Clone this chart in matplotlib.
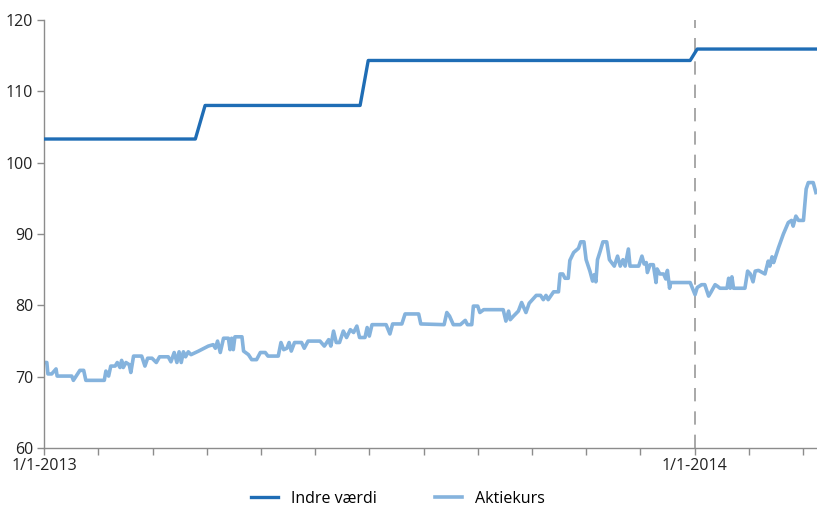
import matplotlib
matplotlib.use("Agg")
import matplotlib.pyplot as plt

# Akse i måneder fra 1/1-2013 (0) til starten af marts 2014
MONTHS_END = 14.26
TICK_MONTHS = list(range(0, 15))
TICK_LABELS = {0: "1/1-2013", 12: "1/1-2014"}

# Indre værdi (trinvis)
indre_x = [0.0, 2.79, 2.97, 5.83, 5.98, 11.92, 12.05, 14.26]
indre_y = [103.3, 103.3, 108.0, 108.0, 114.3, 114.3, 115.9, 115.9]

# Aktiekurs
kurs_x = [
    0.00, 0.05, 0.07, 0.14, 0.22, 0.24, 0.51, 0.54, 0.66, 0.73, 0.77, 1.11,
    1.14, 1.19, 1.23, 1.31, 1.35, 1.40, 1.43, 1.46, 1.51, 1.57, 1.60, 1.65,
    1.80, 1.86, 1.91, 1.99, 2.07, 2.13, 2.29, 2.34, 2.40, 2.45, 2.49, 2.53,
    2.57, 2.61, 2.66, 2.71, 2.85, 3.03, 3.12, 3.16, 3.20, 3.25, 3.31, 3.40,
    3.43, 3.46, 3.49, 3.52, 3.65, 3.68, 3.77, 3.83, 3.92, 3.99, 4.08, 4.13,
    4.32, 4.37, 4.42, 4.48, 4.52, 4.56, 4.62, 4.75, 4.80, 4.87, 5.09, 5.17,
    5.25, 5.29, 5.34, 5.39, 5.45, 5.52, 5.58, 5.65, 5.71, 5.77, 5.82, 5.92,
    5.96, 6.00, 6.05, 6.31, 6.38, 6.43, 6.60, 6.66, 6.91, 6.95, 7.38, 7.43,
    7.48, 7.55, 7.68, 7.77, 7.81, 7.89, 7.92, 8.00, 8.04, 8.11, 8.47, 8.52,
    8.57, 8.60, 8.66, 8.75, 8.81, 8.89, 8.95, 9.08, 9.16, 9.21, 9.26, 9.30,
    9.40, 9.49, 9.52, 9.57, 9.61, 9.67, 9.70, 9.77, 9.86, 9.90, 9.96, 10.00,
    10.07, 10.12, 10.15, 10.18, 10.21, 10.26, 10.31, 10.38, 10.43, 10.52, 10.58, 10.63,
    10.68, 10.72, 10.78, 10.81, 10.97, 11.03, 11.07, 11.11, 11.13, 11.18, 11.24, 11.29,
    11.31, 11.36, 11.43, 11.47, 11.50, 11.54, 11.56, 11.92, 12.01, 12.05, 12.13, 12.19,
    12.26, 12.30, 12.38, 12.42, 12.47, 12.60, 12.63, 12.66, 12.69, 12.72, 12.93, 12.98,
    13.03, 13.08, 13.12, 13.18, 13.30, 13.36, 13.39, 13.43, 13.46, 13.55, 13.64, 13.73,
    13.79, 13.82, 13.87, 13.92, 14.01, 14.06, 14.10, 14.19, 14.24,
]
kurs_y = [
    72.0, 72.0, 70.4, 70.4, 71.1, 70.1, 70.1, 69.5, 70.9, 70.9, 69.5, 69.5,
    70.8, 70.1, 71.5, 71.5, 72.0, 71.3, 72.3, 71.3, 72.0, 71.7, 70.6, 72.9,
    72.9, 71.5, 72.6, 72.6, 72.0, 72.8, 72.8, 72.1, 73.4, 72.0, 73.5, 72.0,
    73.5, 72.8, 73.5, 73.1, 73.6, 74.3, 74.5, 74.0, 75.0, 73.4, 75.4, 75.4,
    73.8, 75.4, 73.8, 75.6, 75.6, 73.6, 73.1, 72.4, 72.4, 73.4, 73.4, 72.9,
    72.9, 74.8, 73.8, 74.0, 74.8, 73.6, 74.8, 74.8, 74.0, 75.0, 75.0, 74.3,
    75.2, 74.3, 76.4, 74.8, 74.8, 76.4, 75.5, 76.6, 76.2, 77.1, 75.5, 75.5,
    76.9, 75.7, 77.3, 77.3, 76.0, 77.4, 77.4, 78.8, 78.8, 77.4, 77.3, 79.0,
    78.5, 77.3, 77.3, 77.9, 77.3, 77.3, 79.9, 79.9, 79.0, 79.4, 79.4, 77.8,
    79.2, 78.0, 78.5, 79.2, 80.4, 79.0, 80.3, 81.4, 81.4, 80.8, 81.4, 80.8,
    81.9, 81.9, 84.4, 84.4, 83.8, 83.8, 86.3, 87.4, 88.0, 88.9, 88.9, 86.4,
    84.8, 83.4, 84.3, 83.3, 86.4, 87.6, 88.9, 88.9, 86.4, 85.5, 86.9, 85.5,
    86.4, 85.5, 87.9, 85.5, 85.5, 86.9, 85.8, 86.0, 84.6, 85.7, 85.7, 83.2,
    85.1, 84.4, 84.4, 83.7, 84.9, 82.4, 83.2, 83.2, 81.5, 82.5, 82.9, 82.9,
    81.3, 81.8, 82.9, 82.7, 82.4, 82.4, 83.8, 82.4, 84.0, 82.4, 82.4, 84.8,
    84.4, 83.3, 84.8, 84.9, 84.4, 86.2, 85.5, 86.8, 86.0, 88.1, 90.0, 91.6,
    91.9, 91.1, 92.5, 91.9, 91.9, 96.3, 97.2, 97.2, 95.8,
]

plt.rcParams["font.family"] = ["Open Sans", "DejaVu Sans"]

fig = plt.figure(figsize=(8.17, 5.07), dpi=100)
ax = fig.add_axes([0.054, 0.116, 0.946, 0.845])

ax.axvline(12, color="#9a9a9a", lw=1.2, ls=(0, (8, 6)), zorder=1)
ax.plot(indre_x, indre_y, color="#1f6db5", lw=2.4, label="Indre værdi",
        solid_joinstyle="round", zorder=3)
ax.plot(kurs_x, kurs_y, color="#85b3dd", lw=2.6, label="Aktiekurs",
        solid_joinstyle="round", zorder=2)

ax.set_xlim(0, MONTHS_END)
ax.set_ylim(60, 120)
ax.set_yticks(range(60, 121, 10))
ax.set_xticks(TICK_MONTHS)
ax.set_xticklabels([TICK_LABELS.get(m, "") for m in TICK_MONTHS])

for side in ("top", "right"):
    ax.spines[side].set_visible(False)
for side in ("left", "bottom"):
    ax.spines[side].set_color("#8c8c8c")
    ax.spines[side].set_linewidth(1.0)

ax.tick_params(axis="both", colors="#8c8c8c", labelcolor="#222222",
               labelsize=11.5, length=5, width=1.0)
ax.tick_params(axis="x", pad=2)
ax.tick_params(axis="y", pad=3)

fig.legend(loc="lower center", bbox_to_anchor=(0.487, -0.028), ncol=2,
           frameon=False, fontsize=11.5, handlelength=1.7,
           columnspacing=3.6, handletextpad=0.8)

fig.savefig("out.png", dpi=100)
